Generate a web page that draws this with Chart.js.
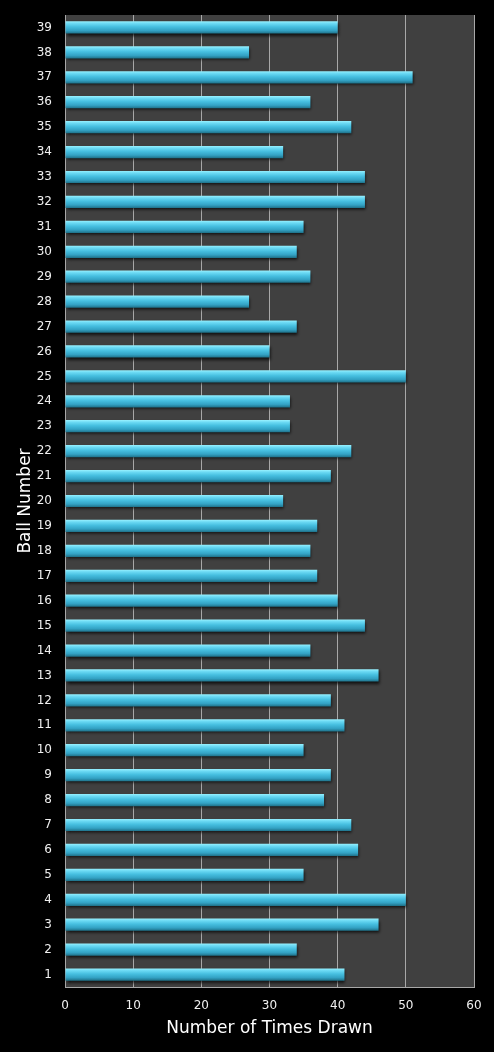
<!DOCTYPE html>
<html><head><meta charset="utf-8">
<script src="https://cdn.jsdelivr.net/npm/chart.js@4/dist/chart.umd.min.js"></script>
<style>html,body{margin:0;padding:0;background:#000;overflow:hidden;} #wrap{width:494px;height:1052px;}</style>
</head><body><div id="wrap"><canvas id="c" width="494" height="1052"></canvas></div>
<script>
const ballNumbers = ['1','2','3','4','5','6','7','8','9','10','11','12','13','14','15','16','17','18','19','20','21','22','23','24','25','26','27','28','29','30','31','32','33','34','35','36','37','38','39'];
const timesDrawn = [41,34,46,50,35,43,42,38,39,35,41,39,46,36,44,40,37,36,37,32,39,42,33,33,50,30,34,27,36,34,35,44,44,32,42,36,51,27,40];
const xMin = 0, xMax = 60, xStep = 10;
const xTitle = 'Number of Times Drawn';
const yTitle = 'Ball Number';

const FONT = 'DejaVu Sans';

function barGradient(context) {
  const chart = context.chart;
  const yScale = chart.scales && chart.scales.y;
  if (!yScale || context.dataIndex === undefined) return '#4ec6e4';
  const yc = yScale.getPixelForValue(context.dataIndex);
  if (!isFinite(yc)) return '#4ec6e4';
  const h = 6.2;
  const g = chart.ctx.createLinearGradient(0, yc - h, 0, yc + h);
  g.addColorStop(0, '#9af2ff');
  g.addColorStop(0.18, '#6cdaf4');
  g.addColorStop(0.45, '#46bfe0');
  g.addColorStop(0.75, '#33a2c4');
  g.addColorStop(1, '#1e6f86');
  return g;
}

const bgPlugin = {
  id: 'bg',
  beforeDraw(chart) {
    const {ctx, chartArea: a} = chart;
    ctx.save();
    ctx.fillStyle = '#000';
    ctx.fillRect(0, 0, chart.width, chart.height);
    ctx.fillStyle = '#404040';
    ctx.fillRect(a.left, a.top, a.right - a.left, a.bottom - a.top);
    ctx.restore();
  },
  beforeDatasetsDraw(chart) {
    const ctx = chart.ctx;
    ctx.save();
    ctx.shadowColor = 'rgba(0,0,0,0.75)';
    ctx.shadowOffsetX = 1;
    ctx.shadowOffsetY = 2;
    ctx.shadowBlur = 3;
  },
  afterDatasetsDraw(chart) {
    chart.ctx.restore();
  }
};

const chart = new Chart(document.getElementById('c'), {
  type: 'bar',
  data: {
    labels: ballNumbers,
    datasets: [{
      data: timesDrawn,
      backgroundColor: barGradient,
      borderWidth: 0,
      barPercentage: 0.49,
      categoryPercentage: 1
    }]
  },
  options: {
    indexAxis: 'y',
    responsive: false,
    animation: false,
    devicePixelRatio: 1,
    layout: { padding: { top: 15, right: 20, left: 0, bottom: 0 } },
    plugins: { legend: { display: false }, tooltip: { enabled: false } },
    scales: {
      x: {
        min: xMin, max: xMax,
        ticks: { stepSize: xStep, color: '#f0f0f0', font: { family: FONT, size: 12 }, padding: 12 },
        grid: { color: '#a8a8a8', lineWidth: 1, drawTicks: false },
        border: { display: true, color: '#a8a8a8' },
        title: { display: true, text: xTitle, color: '#ffffff', font: { family: FONT, size: 17 }, padding: { top: 0, bottom: 13 } },
        afterFit(scale) { scale.height = 65; }
      },
      y: {
        reverse: true,
        ticks: { color: '#f0f0f0', font: { family: FONT, size: 12 }, padding: 13, autoSkip: false },
        grid: { display: false, drawTicks: false },
        border: { display: true, color: '#a8a8a8' },
        title: { display: true, text: yTitle, color: '#ffffff', font: { family: FONT, size: 17 }, padding: { top: 15, bottom: 0 } },
        afterFit(scale) { scale.width = 65; scale.paddingTop = 0; scale.paddingBottom = 0; }
      }
    }
  },
  plugins: [bgPlugin]
});
chart.update();
</script>
</body></html>
